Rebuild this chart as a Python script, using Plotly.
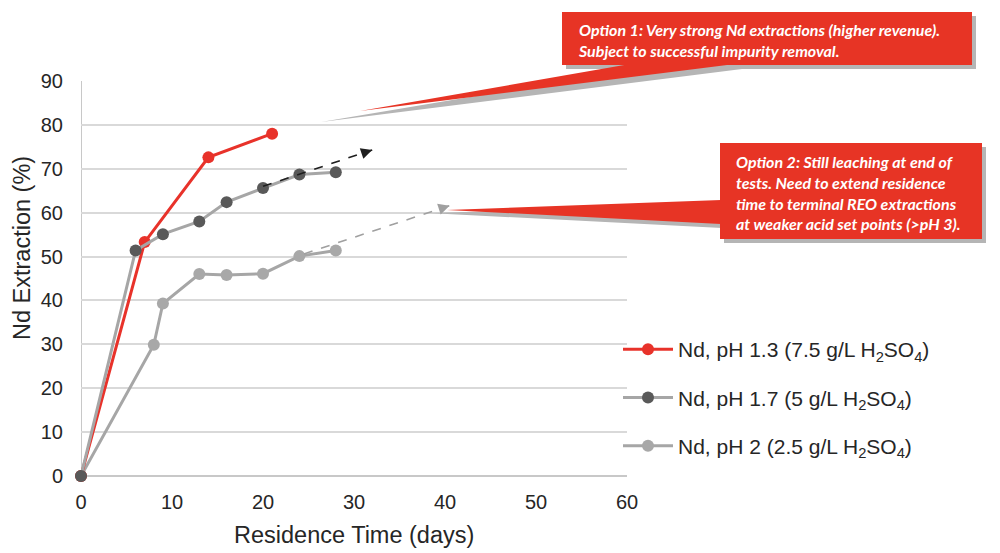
import plotly.graph_objects as go

# ---------------- data ----------------
days_ph13 = [0, 7, 14, 21]
nd_ph13 = [0, 53.3, 72.6, 78.0]

days_ph17 = [0, 6, 9, 13, 16, 20, 24, 28]
nd_ph17 = [0, 51.4, 55.1, 58.0, 62.4, 65.6, 68.7, 69.2]

days_ph2 = [0, 8, 9, 13, 16, 20, 24, 28]
nd_ph2 = [0, 29.9, 39.3, 46.0, 45.8, 46.1, 50.1, 51.4]

names = [
    "Nd, pH 1.3 (7.5 g/L H<sub>2</sub>SO<sub>4</sub>)",
    "Nd, pH 1.7 (5 g/L H<sub>2</sub>SO<sub>4</sub>)",
    "Nd, pH 2 (2.5 g/L H<sub>2</sub>SO<sub>4</sub>)",
]

# trend arrows (tail -> head) in data units
arrow1_x = [20, 32]
arrow1_y = [66, 74.3]
arrow2_x = [24.5, 40.5]
arrow2_y = [50.6, 61.6]

x_ticks = [0, 10, 20, 30, 40, 50, 60]
y_ticks = [0, 10, 20, 30, 40, 50, 60, 70, 80, 90]

callout1 = "Option 1: Very strong Nd extractions (higher revenue).<br>Subject to successful impurity removal."
callout2 = ("Option 2: Still leaching at end of<br>tests. Need to extend residence<br>"
            "time to terminal REO extractions<br>at weaker acid set points (>pH 3).")

# ---------------- layout geometry ----------------
W, H = 1000, 553
L, R, T, B = 81, 627, 81, 476  # plot area in pixels


def px(xp):
    return (xp - L) / (R - L)


def py(yp):
    return (B - yp) / (B - T)


RED = "#e8322a"
BOX_RED = "#e73425"
SHADOW = "#b5b5b5"
DARK = "#595959"
LIGHT = "#a8a8a8"
LINE_GRAY = "#a6a6a6"
TXT = "#262626"
FONT = "Liberation Sans, Arial, sans-serif"

fig = go.Figure()

fig.add_trace(go.Scatter(
    x=days_ph2, y=nd_ph2, name=names[2], mode="lines+markers",
    line=dict(color=LINE_GRAY, width=3), marker=dict(color=LIGHT, size=12),
    cliponaxis=False, legendgroup="c", legendrank=3))
fig.add_trace(go.Scatter(
    x=days_ph13, y=nd_ph13, name=names[0], mode="lines+markers",
    line=dict(color=RED, width=3), marker=dict(color=RED, size=12),
    cliponaxis=False, legendgroup="a", legendrank=1))
fig.add_trace(go.Scatter(
    x=days_ph17, y=nd_ph17, name=names[1], mode="lines+markers",
    line=dict(color=LINE_GRAY, width=3), marker=dict(color=DARK, size=12),
    cliponaxis=False, legendgroup="b", legendrank=2))

shapes = []
annotations = []

# dashed trend arrows
for ax_, ay_, col in [(arrow1_x, arrow1_y, "#1f1f1f"), (arrow2_x, arrow2_y, "#a0a0a0")]:
    shapes.append(dict(type="line", xref="x", yref="y", x0=ax_[0], y0=ay_[0],
                       x1=ax_[1], y1=ay_[1], line=dict(color=col, width=1.6, dash="dash")))
    tx = ax_[1] - 0.06 * (ax_[1] - ax_[0])
    ty = ay_[1] - 0.06 * (ay_[1] - ay_[0])
    annotations.append(dict(x=ax_[1], y=ay_[1], ax=tx, ay=ty, axref="x", ayref="y",
                            xref="x", yref="y", text="", showarrow=True, arrowhead=2,
                            arrowsize=1.4, arrowwidth=1.6, arrowcolor=col))


def poly(points):
    return "M " + " L ".join(f"{px(a):.5f},{py(b):.5f}" for a, b in points) + " Z"


# callout 1 (shadow, wedge, box)
shapes.append(dict(type="path", xref="paper", yref="paper", layer="above",
                   path=poly([(636, 69), (742, 69), (321, 122)]),
                   fillcolor=SHADOW, line=dict(width=0)))
shapes.append(dict(type="rect", xref="paper", yref="paper", layer="above",
                   x0=px(566), x1=px(976), y0=py(16), y1=py(69),
                   fillcolor=SHADOW, line=dict(width=0)))
shapes.append(dict(type="path", xref="paper", yref="paper", layer="above",
                   path=poly([(630, 64), (735, 64), (360, 111)]),
                   fillcolor=BOX_RED, line=dict(width=0)))
shapes.append(dict(type="rect", xref="paper", yref="paper", layer="above",
                   x0=px(562), x1=px(972), y0=py(12), y1=py(65),
                   fillcolor=BOX_RED, line=dict(width=0)))

# callout 2
shapes.append(dict(type="path", xref="paper", yref="paper", layer="above",
                   path=poly([(722, 205), (722, 228), (428, 213)]),
                   fillcolor=SHADOW, line=dict(width=0)))
shapes.append(dict(type="rect", xref="paper", yref="paper", layer="above",
                   x0=px(724), x1=px(986), y0=py(147), y1=py(243),
                   fillcolor=SHADOW, line=dict(width=0)))
shapes.append(dict(type="path", xref="paper", yref="paper", layer="above",
                   path=poly([(721, 200), (721, 224), (447, 210)]),
                   fillcolor=BOX_RED, line=dict(width=0)))
shapes.append(dict(type="rect", xref="paper", yref="paper", layer="above",
                   x0=px(720), x1=px(982), y0=py(143), y1=py(239),
                   fillcolor=BOX_RED, line=dict(width=0)))

cfont = dict(family="Lato, Open Sans, sans-serif", size=16, color="white",
             weight="bold", style="italic")
annotations.append(dict(xref="paper", yref="paper", x=px(576), y=py(39.5),
                        xanchor="left", yanchor="middle", align="left",
                        text=callout1, showarrow=False, font=cfont))
annotations.append(dict(xref="paper", yref="paper", x=px(734), y=py(192),
                        xanchor="left", yanchor="middle", align="left",
                        text=callout2, showarrow=False, font=cfont))

# axis titles
annotations.append(dict(xref="paper", yref="paper", x=px(22), y=py(248),
                        text="Nd Extraction (%)", textangle=-90, showarrow=False,
                        xanchor="center", yanchor="middle",
                        font=dict(family=FONT, size=23.5, color=TXT)))
annotations.append(dict(xref="paper", yref="paper", x=px(354), y=py(535),
                        text="Residence Time (days)", showarrow=False,
                        xanchor="center", yanchor="middle",
                        font=dict(family=FONT, size=23.5, color=TXT)))

fig.update_layout(
    width=W, height=H, autosize=False,
    margin=dict(l=L, r=W - R, t=T, b=H - B, pad=0),
    paper_bgcolor="white", plot_bgcolor="white",
    font=dict(family=FONT, color=TXT),
    showlegend=True,
    legend=dict(x=px(618), y=py(329), xanchor="left", yanchor="top",
                font=dict(family=FONT, size=21, color=TXT),
                itemwidth=50, traceorder="grouped", tracegroupgap=18,
                bgcolor="rgba(0,0,0,0)"),
    shapes=shapes, annotations=annotations,
    xaxis=dict(range=[0, 60], tickvals=x_ticks, showgrid=False, zeroline=False,
               showline=False, ticks="", ticklabelstandoff=12,
               tickfont=dict(family=FONT, size=20, color=TXT)),
    yaxis=dict(range=[0, 90], tickvals=y_ticks, showgrid=True, gridcolor="#d9d9d9",
               gridwidth=2, zeroline=True, zerolinecolor="#c8c8c8", zerolinewidth=2,
               showline=False, ticks="", ticklabelstandoff=17,
               tickfont=dict(family=FONT, size=20, color=TXT)),
)

# y axis line drawn as vertical line at x=0
fig.add_shape(type="line", xref="x", yref="paper", x0=0, x1=0, y0=0, y1=1,
              line=dict(color="#c8c8c8", width=2), layer="below")

fig.write_html("out.html", config={"displayModeBar": False},
               post_script="document.body.style.margin='0';document.body.style.overflow='hidden';")
